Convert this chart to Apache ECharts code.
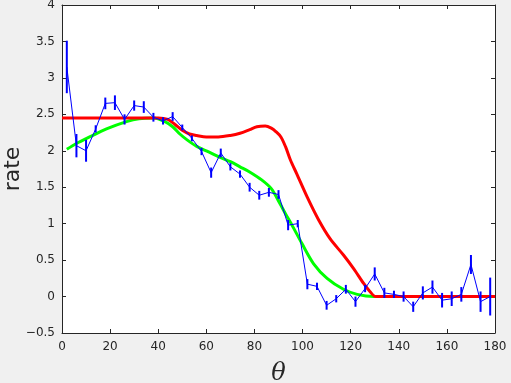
<!DOCTYPE html>
<html>
<head>
<meta charset="utf-8">
<script src="https://cdn.jsdelivr.net/npm/echarts@6/dist/echarts.min.js"></script>
<style>
  html, body { margin: 0; padding: 0; background: #f0f0f0; }
  #chart { width: 511px; height: 383px; }
</style>
</head>
<body>
<div id="chart"></div>
<script>
  // measured points (blue, with error bars)
  var theta = [2, 6, 10, 14, 18, 22, 26, 30, 34, 38, 42, 46, 50, 54, 58, 62, 66, 70, 74, 78, 82, 86, 90,
    94, 98, 102, 106, 110, 114, 118, 122, 126, 130, 134, 138, 142, 146, 150, 154, 158, 162, 166, 170, 174, 178];
  var rate = [3.15, 2.07, 2.0, 2.3, 2.65, 2.66, 2.43, 2.62, 2.6, 2.46, 2.41, 2.47, 2.32, 2.17, 1.99, 1.70, 1.97, 1.78, 1.68, 1.50, 1.39, 1.43, 1.40,
    0.98, 1.0, 0.17, 0.14, -0.12, -0.03, 0.10, -0.07, 0.11, 0.31, 0.05, 0.03, 0.0, -0.14, 0.05, 0.13, -0.05, -0.03, 0.03, 0.44, -0.07, 0.0];
  var rateErr = [0.36, 0.16, 0.15, 0.05, 0.08, 0.1, 0.07, 0.07, 0.08, 0.06, 0.05, 0.06, 0.04, 0.04, 0.05, 0.07, 0.06, 0.05, 0.05, 0.06, 0.06, 0.06, 0.06,
    0.07, 0.05, 0.07, 0.05, 0.06, 0.05, 0.06, 0.07, 0.05, 0.09, 0.07, 0.05, 0.07, 0.07, 0.09, 0.09, 0.1, 0.1, 0.1, 0.13, 0.14, 0.26];

  // red model curve
  var redTheta = [0, 40, 44, 47, 50, 53, 56, 60, 65, 70, 74, 78, 81, 84.5, 87, 89, 91, 93, 95, 97.5, 102, 106.7, 111.5, 117, 121.3, 125.4, 128, 130.5, 180];
  var redVals = [2.45, 2.45, 2.43, 2.36, 2.28, 2.23, 2.21, 2.19, 2.19, 2.21, 2.24, 2.29, 2.33, 2.34, 2.31, 2.26, 2.19, 2.05, 1.87, 1.69, 1.36, 1.05, 0.79, 0.57, 0.38, 0.18, 0.07, 0, 0];

  // green model curve
  var greenTheta = [2, 6, 11.5, 18.5, 26.8, 32, 38, 42.8, 46, 49, 52, 56, 60, 65.7, 70, 74, 78, 83, 87, 90.7, 93, 95.6, 99.7, 104.6, 110.2, 117, 122.7, 129.6, 180];
  var greenVals = [2.02, 2.1, 2.19, 2.3, 2.4, 2.44, 2.45, 2.40, 2.33, 2.23, 2.15, 2.06, 2.0, 1.91, 1.85, 1.78, 1.71, 1.60, 1.48, 1.27, 1.13, 0.98, 0.73, 0.45, 0.25, 0.10, 0.03, 0, 0];

  var zip = function (xs, ys) { return xs.map(function (x, i) { return [x, ys[i]]; }); };
  var errData = theta.map(function (t, i) { return [t, rate[i] - rateErr[i], rate[i] + rateErr[i]]; });

  var axisColor = '#262626';
  var chart = echarts.init(document.getElementById('chart'));
  var option = {
    animation: false,
    backgroundColor: '#f0f0f0',
    grid: {
      left: 62, right: 16, top: 5, bottom: 50, containLabel: false, outerBoundsMode: 'none',
      show: true, backgroundColor: '#ffffff', borderWidth: 0
    },
    xAxis: [{
      type: 'value', min: 0, max: 180, interval: 20,
      name: 'θ', nameLocation: 'middle', nameGap: 29,
      nameTextStyle: { fontFamily: 'DejaVu Serif', fontStyle: 'italic', fontSize: 24, color: axisColor },
      axisLine: { show: true, onZero: false, lineStyle: { color: axisColor, width: 1 } },
      axisTick: { show: true, inside: true, length: 4, lineStyle: { color: axisColor } },
      axisLabel: { fontFamily: 'DejaVu Sans', fontSize: 12, color: axisColor, margin: 8 },
      splitLine: { show: false }
    }, {
      type: 'value', min: 0, max: 180, interval: 20, position: 'top',
      axisLine: { show: true, onZero: false, lineStyle: { color: axisColor, width: 1 } },
      axisTick: { show: true, inside: true, length: 4, lineStyle: { color: axisColor } },
      axisLabel: { show: false }, splitLine: { show: false }
    }],
    yAxis: [{
      type: 'value', min: -0.5, max: 4, interval: 0.5,
      name: 'rate', nameLocation: 'middle', nameGap: 38, nameMoveOverlap: false,
      nameTextStyle: { fontFamily: 'DejaVu Sans', fontSize: 22, color: axisColor },
      axisLine: { show: true, onZero: false, lineStyle: { color: axisColor, width: 1 } },
      axisTick: { show: true, inside: true, length: 4, lineStyle: { color: axisColor } },
      axisLabel: {
        fontFamily: 'DejaVu Sans', fontSize: 12, color: axisColor, margin: 7,
        formatter: function (v) { return String(v).replace('-', '\u2212'); }
      },
      splitLine: { show: false }
    }, {
      type: 'value', min: -0.5, max: 4, interval: 0.5, position: 'right',
      axisLine: { show: true, onZero: false, lineStyle: { color: axisColor, width: 1 } },
      axisTick: { show: true, inside: true, length: 4, lineStyle: { color: axisColor } },
      axisLabel: { show: false }, splitLine: { show: false }
    }],
    series: [
      {
        name: 'green', type: 'line', data: zip(greenTheta, greenVals),
        smooth: 0.3, symbol: 'none',
        lineStyle: { color: '#00ff00', width: 3 }, z: 2
      },
      {
        name: 'red', type: 'line', data: zip(redTheta, redVals),
        smooth: 0.3, symbol: 'none',
        lineStyle: { color: '#ff0000', width: 3 }, z: 3
      },
      {
        name: 'rate', type: 'line', data: zip(theta, rate),
        symbol: 'none', lineStyle: { color: '#0000ff', width: 1 }, z: 4
      },
      {
        name: 'err', type: 'custom', data: errData, z: 5,
        renderItem: function (params, api) {
          var lo = api.coord([api.value(0), api.value(1)]);
          var hi = api.coord([api.value(0), api.value(2)]);
          return {
            type: 'line',
            shape: { x1: lo[0], y1: lo[1], x2: hi[0], y2: hi[1] },
            style: { stroke: '#0000ff', lineWidth: 2 }
          };
        }
      }
    ]
  };
  chart.setOption(option);
</script>
</body>
</html>
